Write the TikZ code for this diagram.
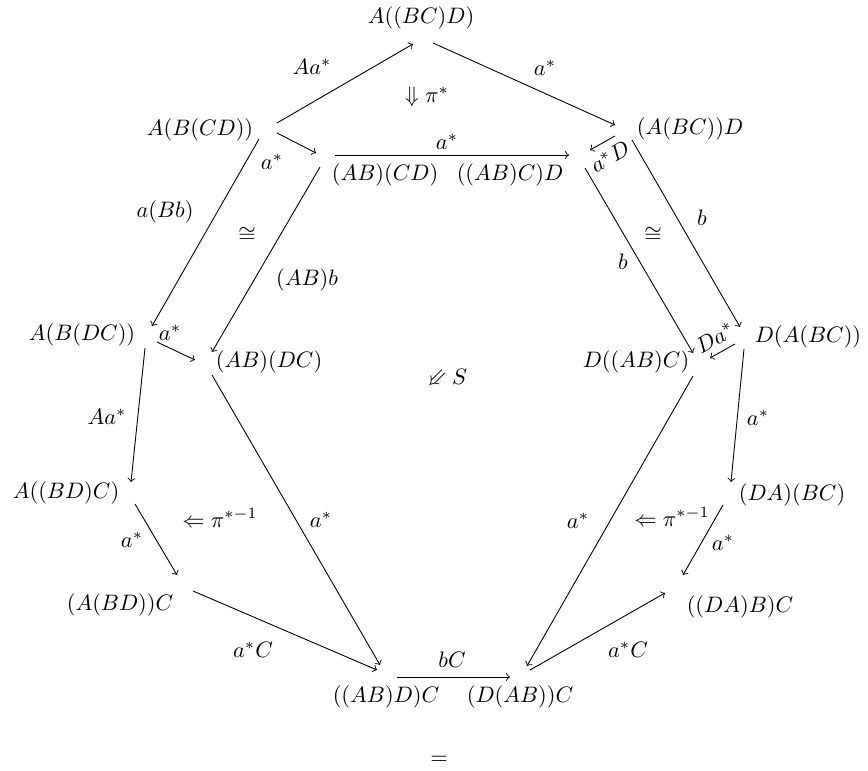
\documentclass[tikz,border=0pt]{standalone}
\usepackage{amssymb}
\usetikzlibrary{calc}
\tikzset{
  obj/.style={inner sep=1pt},
  lbl/.style={inner sep=1pt},
  arr/.style={->, line width=0.4pt},
}
\begin{document}
\begin{tikzpicture}[x=0.447pt, y=-0.447pt]
    \useasboundingbox (0,0) rectangle (868,771);

    % Objects of the diagram
    \node[obj] (top) at (421,18)  {$A((BC)D)$};
    \node[obj] (ul)  at (200,130) {$A(B(CD))$};
    \node[obj] (ur)  at (690,129) {$(A(BC))D$};
    \node[obj] (uml) at (385,175) {$(AB)(CD)$};
    \node[obj] (umr) at (510,175) {$((AB)C)D$};
    \node[obj] (ml)  at (82,335)  {$A(B(DC))$};
    \node[obj] (mml) at (269,362) {$(AB)(DC)$};
    \node[obj] (mmr) at (636,362) {$D((AB)C)$};
    \node[obj] (mr)  at (808,337) {$D(A(BC))$};
    \node[obj] (ll)  at (66,493)  {$A((BD)C)$};
    \node[obj] (lr)  at (792,495) {$(DA)(BC)$};
    \node[obj] (bl)  at (120,605) {$(A(BD))C$};
    \node[obj] (br)  at (740,607) {$((DA)B)C$};
    \node[obj] (bml) at (386,697) {$((AB)D)C$};
    \node[obj] (bmr) at (520,697) {$(D(AB))C$};
    \node[obj] (eq)  at (439,760) {$=$};

    % Arrows, top part
    \draw[arr] ($(ul)+(77,-7)$) -- ($(top)+(-8,26)$);
    \draw[arr] ($(top)+(12,25)$) -- ($(ur)+(-75,-4)$);
    \draw[arr] ($(ul)+(77,3)$) -- ($(uml)+(-69,-22)$);
    \draw[arr] ($(uml)+(-50,-20)$) -- ($(umr)+(59,-20)$);
    \draw[arr] ($(ur)+(-75,7)$) -- ($(umr)+(80,-25)$);

    % Arrows, left side
    \draw[arr] ($(ul)+(59,9)$) -- ($(ml)+(70,-9)$);
    \draw[arr] ($(uml)+(-65,-8)$) -- ($(mml)+(-57,-10)$);
    \draw[arr] ($(ml)+(75,7)$) -- ($(mml)+(-74,-2)$);
    \draw[arr] ($(ml)+(63,13)$) -- ($(ll)+(65,-11)$);
    \draw[arr] ($(ll)+(69,11)$) -- ($(bl)+(57,-30)$);
    \draw[arr] ($(mml)+(-57,13)$) -- ($(bml)+(-6,-32)$);
    \draw[arr] ($(bl)+(73,-14)$) -- ($(bml)+(-9,-27)$);

    % Arrows, bottom and right side
    \draw[arr] ($(bml)+(11,-20)$) -- ($(bmr)+(-10,-20)$);
    \draw[arr] ($(mmr)+(57,14)$) -- ($(bmr)+(7,-31)$);
    \draw[arr] ($(bmr)+(10,-27)$) -- ($(br)+(-75,-14)$);
    \draw[arr] ($(lr)+(-69,10)$) -- ($(br)+(-57,-32)$);
    \draw[arr] ($(mr)+(-64,12)$) -- ($(lr)+(-61,-13)$);
    \draw[arr] ($(mr)+(-73,7)$) -- ($(mmr)+(74,-4)$);
    \draw[arr] ($(ur)+(-58,11)$) -- ($(mr)+(-68,-10)$);
    \draw[arr] ($(umr)+(75,-7)$) -- ($(mmr)+(57,-9)$);

    % Arrow labels
    \node[lbl] (l-a) at (312,67)  {$Aa^*$};
    \node[lbl] (l-b) at (545,68)  {$a^*$};
    \node[lbl] (l-c) at (272,162) {$a^*$};
    \node[lbl] (l-d) at (447,142) {$a^*$};
    \node[lbl, rotate=30] (l-e) at (610,157) {$a^*D$};
    \node[lbl] (l-f) at (165,212) {$a(Bb)$};
    \node[lbl] (l-g) at (307,280) {$(AB)b$};
    \node[lbl] (l-h) at (170,333) {$a^*$};
    \node[lbl] (l-i) at (107,417) {$Aa^*$};
    \node[lbl] (l-j) at (132,540) {$a^*$};
    \node[lbl] (l-l) at (321,520) {$a^*$};
    \node[lbl] (l-m) at (253,650) {$a^*C$};
    \node[lbl] (l-n) at (452,660) {$bC$};
    \node[lbl] (l-o) at (578,521) {$a^*$};
    \node[lbl] (l-p) at (628,650) {$a^*C$};
    \node[lbl] (l-q) at (723,543) {$a^*$};
    \node[lbl] (l-s) at (758,418) {$a^*$};
    \node[lbl, rotate=30] (l-t) at (715,338) {$Da^*$};
    \node[lbl] (l-u) at (702,218) {$b$};
    \node[lbl] (l-v) at (623,262) {$b$};

    % 2-cells
    \node[lbl] (pi)   at (427,97)  {$\Downarrow\pi^*$};
    \node[lbl] (isoL) at (247,235) {$\cong$};
    \node[lbl] (isoR) at (653,235) {$\cong$};
    \node[lbl] (S)    at (447,380) {\rotatebox[origin=c]{45}{$\Leftarrow$}\,$S$};
    \node[lbl] (piL)  at (220,518) {$\Leftarrow\pi^{*-1}$};
    \node[lbl] (piR)  at (672,517) {$\Leftarrow\pi^{*-1}$};
\end{tikzpicture}
\end{document}
